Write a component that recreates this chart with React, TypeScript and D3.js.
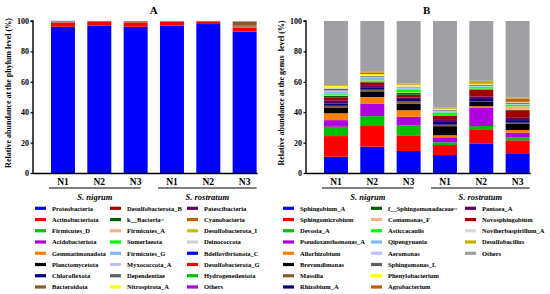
// Stacked relative-abundance bars at phylum (A) and genus (B) level
import React, { useEffect, useRef } from 'react';
import * as d3 from 'd3';

const sampleIds = ['nN1', 'nN2', 'nN3', 'rN1', 'rN2', 'rN3'];
const sampleLabels = ['N1', 'N2', 'N3', 'N1', 'N2', 'N3'];
const groupNames = ['S. nigrum', 'S. rostratum'];
const groupMembers = [[0, 1, 2], [3, 4, 5]];
const yTicks = [0, 20, 40, 60, 80, 100];

// ---- panel A: phylum level (legend order, column by column) ----
const phylumNames = [
  'Proteobacteria', 'Actinobacteriota', 'Firmicutes_D', 'Acidobacteriota', 'Gemmatimonadota',
  'Planctomycetota', 'Chloroflexota', 'Bacteroidota',
  'Desulfobacterota_B', 'k__Bacteria~', 'Firmicutes_A', 'Sumerlaeota', 'Firmicutes_G',
  'Myxococcota_A', 'Dependentiae', 'Nitrospirota_A',
  'Patescibacteria', 'Cyanobacteria', 'Desulfobacterota_I', 'Deinococcota', 'Bdellovibrionota_C',
  'Desulfobacterota_G', 'Hydrogenedentota', 'Others'
];
const phylumColors = [
  '#0000ff', '#ff0000', '#00c000', '#b000e0', '#ff8000', '#000000', '#000080', '#8b5a2b',
  '#a00000', '#006000', '#f4b183', '#00ff00', '#80b8f0', '#c0c0ff', '#606060', '#ffff00',
  '#600060', '#c06000', '#c0c000', '#d0d0d0', '#0000ff', '#ff0000', '#00c000', '#b000e0'
];
const phylumNigrumN1 = [96.2, 2.6, 0.15, 0.2, 0.1, 0.1, 0.1, 0.15, 0.05, 0.05, 0.02, 0.02, 0.02, 0.02, 0.02, 0.02, 0.1, 0.02, 0.02, 0.02, 0.01, 0.01, 0.01, 0.1];
const phylumNigrumN2 = [97.1, 2.6, 0.05, 0.05, 0.03, 0.03, 0.02, 0.05, 0.01, 0.01, 0.01, 0.01, 0.01, 0.01, 0.01, 0.01, 0.01, 0.01, 0.01, 0.01, 0.01, 0.01, 0.01, 0.01];
const phylumNigrumN3 = [96.2, 2.9, 0.1, 0.1, 0.05, 0.05, 0.05, 0.35, 0.05, 0.02, 0.02, 0.02, 0.01, 0.01, 0.01, 0.01, 0.01, 0.01, 0.01, 0.01, 0.01, 0.01, 0.01, 0.01];
const phylumRostratumN1 = [97.1, 2.4, 0.1, 0.1, 0.05, 0.05, 0.05, 0.05, 0.01, 0.01, 0.01, 0.01, 0.01, 0.01, 0.01, 0.01, 0.01, 0.01, 0.01, 0.01, 0.01, 0.01, 0.01, 0.01];
const phylumRostratumN2 = [98.0, 1.7, 0.05, 0.05, 0.03, 0.03, 0.03, 0.05, 0.01, 0.01, 0.01, 0.01, 0.01, 0.01, 0.01, 0.01, 0.01, 0.01, 0.01, 0.01, 0.01, 0.01, 0.01, 0.01];
const phylumRostratumN3 = [93.0, 2.6, 0.6, 0.2, 0.2, 0.2, 0.2, 2.6, 0.05, 0.05, 0.05, 0.02, 0.02, 0.02, 0.02, 0.02, 0.02, 0.02, 0.02, 0.02, 0.01, 0.01, 0.01, 0.02];

// ---- panel B: genus level (legend order, column by column) ----
const genusNames = [
  'Sphingobium_A', 'Sphingomicrobium', 'Devosia_A', 'Pseudoxanthomonas_A', 'Allorhizobium',
  'Brevundimonas', 'Massilia', 'Rhizobium_A',
  'f__Sphingomonadaceae~', 'Comamonas_F', 'Asticcacaulis', 'Qipengyuania', 'Aeromonas',
  'Sphingomonas_L', 'Phenylobacterium', 'Agrobacterium',
  'Pantoea_A', 'Novosphingobium', 'Noviherbaspirillum_A', 'Desulfobacillus', 'Others'
];
const genusColors = [
  '#0000ff', '#ff0000', '#00c000', '#b000e0', '#ff8000', '#000000', '#8b5a2b', '#000080',
  '#006000', '#f4b183', '#00ff00', '#80b8f0', '#c0c0ff', '#606060', '#ffff00', '#c06000',
  '#600060', '#a00000', '#d8d8d8', '#c0b000', '#a0a0a4'
];
// order the genera are stacked in, bottom to top
const genusStackOrder = [
  'Sphingobium_A', 'Sphingomicrobium', 'Devosia_A', 'Pseudoxanthomonas_A', 'Allorhizobium',
  'Brevundimonas', 'Massilia', 'Rhizobium_A', 'Pantoea_A', 'Novosphingobium',
  'f__Sphingomonadaceae~', 'Comamonas_F', 'Asticcacaulis', 'Qipengyuania', 'Aeromonas',
  'Sphingomonas_L', 'Noviherbaspirillum_A', 'Phenylobacterium', 'Agrobacterium', 'Desulfobacillus', 'Others'
];
const genusNigrumN1 = [10.7, 13.6, 6.1, 4.4, 4.5, 3.5, 1.4, 1.6, 0.9, 0.8, 0.6, 1.6, 0.6, 1.2, 1.4, 0.3, 2.0, 2.0, 0.4, 0.3, 42.1];
const genusNigrumN2 = [17.3, 13.6, 6.5, 8.3, 4.3, 3.7, 1.1, 1.2, 0.6, 0.7, 0.8, 0.8, 0.6, 0.6, 1.0, 1.0, 1.8, 1.8, 0.4, 0.9, 33.0];
const genusNigrumN3 = [14.5, 10.3, 6.5, 5.7, 4.3, 4.4, 1.5, 1.5, 1.1, 0.4, 2.0, 0.7, 0.5, 0.3, 1.0, 0.3, 1.0, 1.8, 0.5, 0.6, 41.1];
const genusRostratumN1 = [11.8, 6.6, 1.8, 3.3, 1.3, 6.0, 1.0, 1.8, 0.4, 0.3, 1.6, 0.5, 0.4, 0.6, 0.6, 0.3, 1.3, 2.6, 0.3, 0.6, 56.9];
const genusRostratumN2 = [19.5, 8.8, 2.6, 11.9, 1.1, 2.8, 0.3, 1.7, 0.3, 0.4, 1.0, 0.4, 0.3, 0.6, 0.3, 0.4, 1.7, 4.4, 0.4, 1.8, 39.3];
const genusRostratumN3 = [13.0, 8.5, 1.8, 3.2, 1.8, 4.3, 0.5, 1.7, 0.3, 2.3, 1.0, 0.3, 0.3, 0.8, 0.2, 2.2, 1.5, 5.0, 0.3, 0.6, 50.4];

const FONT = '"Liberation Serif", "Times New Roman", serif';

function toRows(names, sampleArrays) {
  return sampleArrays.map((vals, s) => {
    const row = { sample: sampleIds[s] };
    names.forEach((n, i) => { row[n] = vals[i]; });
    return row;
  });
}

function Panel({ x0, title, yLabel, names, colors, order, values, legendX }) {
  const yAxisRef = useRef(null);
  const top = 21, bottom = 173;
  const axisX = x0 - 6;

  const x = d3.scaleBand().domain(sampleIds).range([x0 + 5.8, x0 + 223.8]).paddingInner(0.34).paddingOuter(0.17);
  const y = d3.scaleLinear().domain([0, 100]).range([bottom, top]);
  const color = d3.scaleOrdinal().domain(names).range(colors);
  const rows = toRows(names, values);
  const series = d3.stack().keys(order)(rows);

  useEffect(() => {
    const g = d3.select(yAxisRef.current);
    g.call(d3.axisLeft(y).tickValues(yTicks).tickSize(2.5).tickPadding(1.5));
    g.select('.domain').attr('stroke-width', 1.4).attr('d', `M-2.5,${top}H0V${bottom}`);
    g.selectAll('.tick line').attr('stroke-width', 1.2);
    g.selectAll('text').attr('font-family', FONT).attr('font-weight', 'bold').attr('font-size', 8).attr('fill', '#000');
  }, []);

  const bw = x.bandwidth();
  const rowY = (i) => 208.3 + i * 11.24;

  return (
    <g>
      <text x={x(sampleIds[2])! + bw + 6} y={14} textAnchor="middle" fontFamily={FONT} fontWeight="bold" fontSize={11}>{title}</text>
      <text transform={`translate(${axisX - 22},${93}) rotate(-90)`} textAnchor="middle" fontFamily={FONT}
        fontWeight="bold" fontSize={8} style={{ whiteSpace: 'pre' }}>{yLabel}</text>
      {series.map((s) => (
        <g key={s.key} fill={color(s.key)}>
          {s.map((d) => (
            <rect key={d.data.sample} x={x(d.data.sample)} width={bw}
              y={y(d[1])} height={Math.max(0, y(d[0]) - y(d[1]))} />
          ))}
        </g>
      ))}
      <g ref={yAxisRef} transform={`translate(${axisX},0)`} />
      <line x1={axisX} x2={x(sampleIds[5])! + bw + 1} y1={bottom + 0.5} y2={bottom + 0.5} stroke="#000" strokeWidth={1.4} />
      {sampleIds.map((id, i) => (
        <text key={id} x={x(id)! + bw / 2} y={185} textAnchor="middle" fontFamily={FONT} fontWeight="bold" fontSize={9.5}>{sampleLabels[i]}</text>
      ))}
      {groupMembers.map((m, gi) => {
        const a = x(sampleIds[m[0]])! - 2;
        const b = x(sampleIds[m[m.length - 1]])! + bw - (gi === 0 ? 7 : 0);
        return (
          <g key={gi}>
            <line x1={a} x2={b} y1={188} y2={188} stroke="#000" strokeWidth={1} />
            <text x={(a + b) / 2} y={200} textAnchor="middle" fontFamily={FONT} fontWeight="bold" fontStyle="italic" fontSize={8.5}>{groupNames[gi]}</text>
          </g>
        );
      })}
      {names.map((n, i) => {
        const col = Math.floor(i / 8), r = i % 8;
        const lx = legendX[col];
        return (
          <g key={n} transform={`translate(${lx},${rowY(r)})`}>
            <rect x={0} y={-1.6} width={11} height={3.2} fill={color(n)} />
            <text x={17} y={2.3} fontFamily={FONT} fontWeight="bold" fontSize={6.5}>{n}</text>
          </g>
        );
      })}
    </g>
  );
}

export default function App() {
  return (
    <svg width={550} height={294} style={{ display: 'block', position: 'absolute', left: 0, top: 0, background: '#fff' }}>
      <Panel x0={39} title="A" yLabel="Relative abundance at the phylum level (%)"
        names={phylumNames} colors={phylumColors} order={phylumNames}
        values={[phylumNigrumN1, phylumNigrumN2, phylumNigrumN3, phylumRostratumN1, phylumRostratumN2, phylumRostratumN3]}
        legendX={[35, 110, 187]} />
      <Panel x0={312} title="B" yLabel="Relative abundance at the genus  level (%)"
        names={genusNames} colors={genusColors} order={genusStackOrder}
        values={[genusNigrumN1, genusNigrumN2, genusNigrumN3, genusRostratumN1, genusRostratumN2, genusRostratumN3]}
        legendX={[283, 371, 465]} />
    </svg>
  );
}
